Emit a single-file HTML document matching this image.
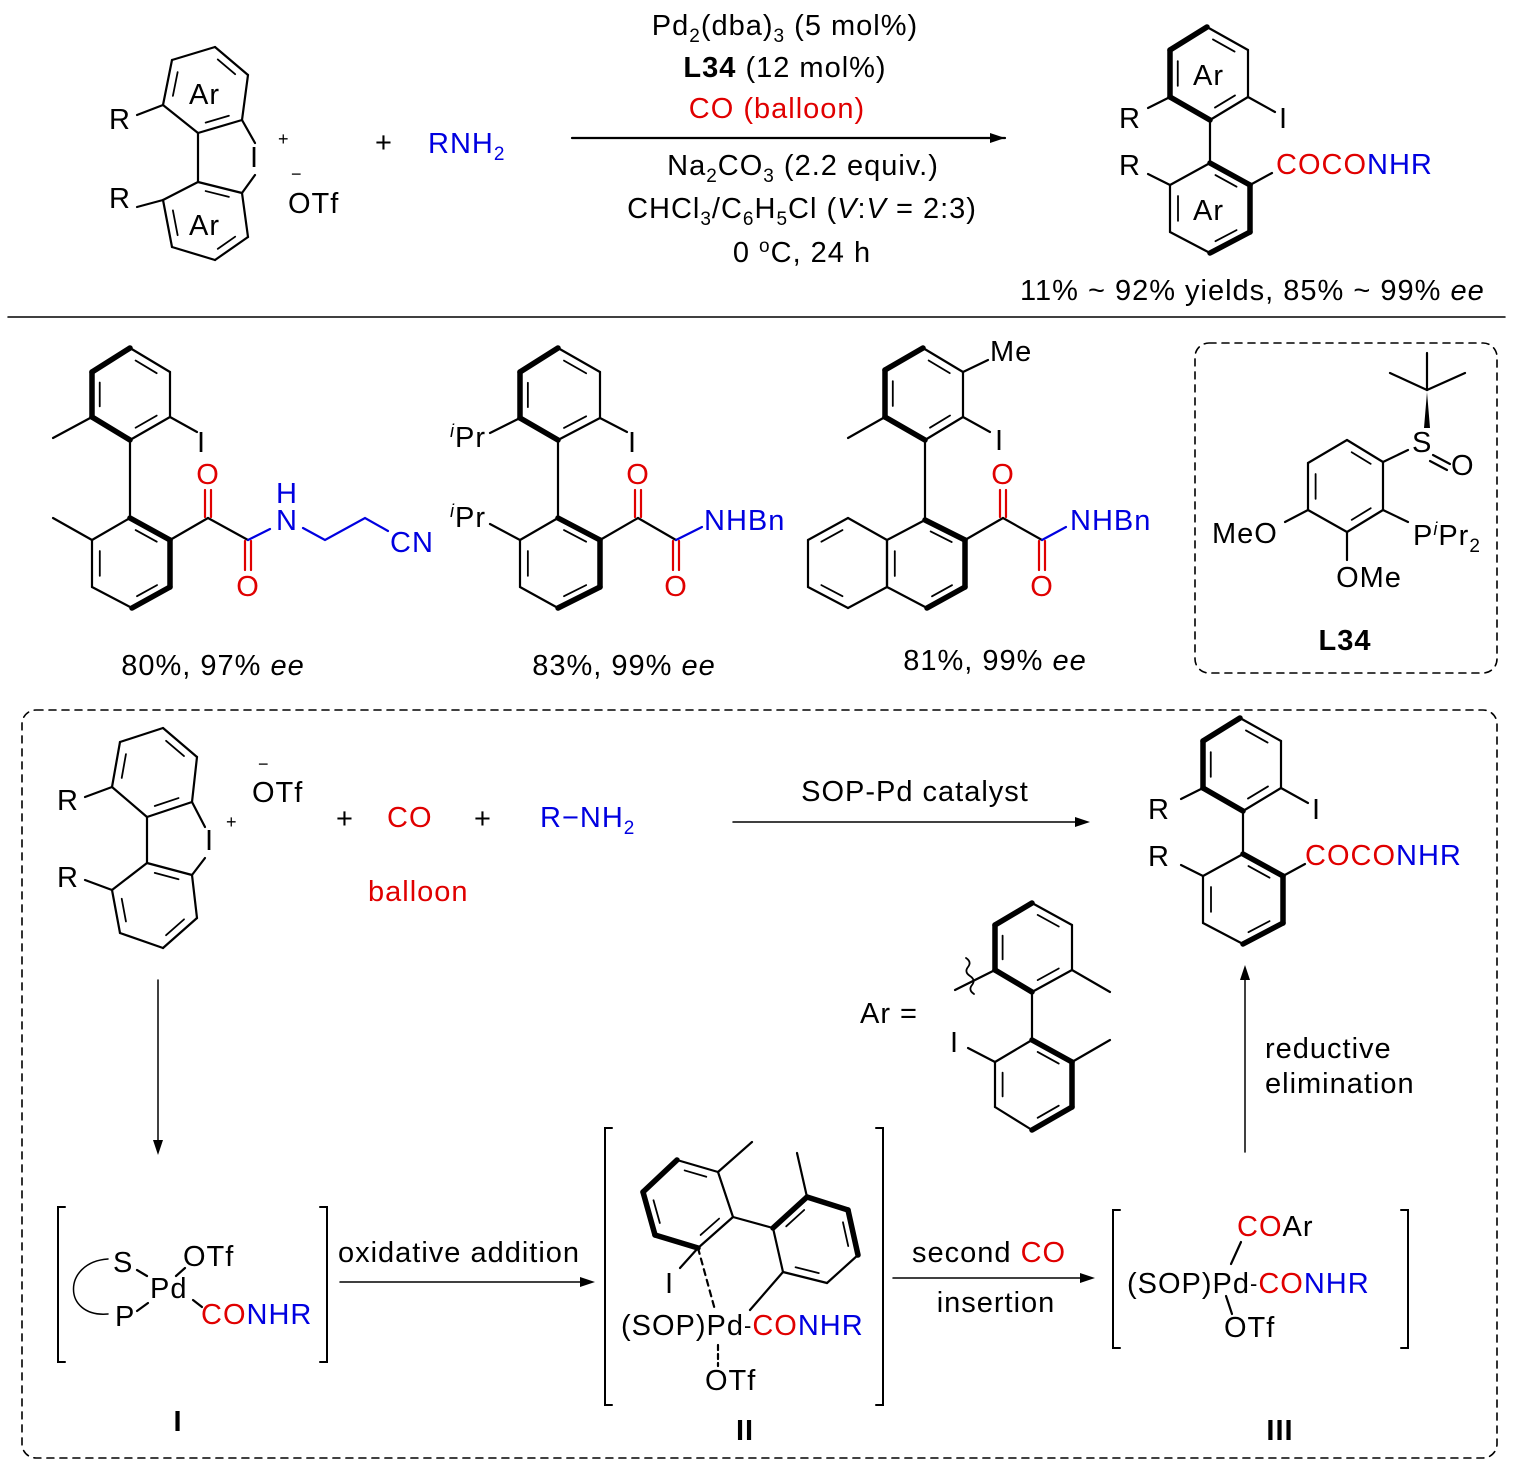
<!DOCTYPE html>
<html><head><meta charset="utf-8">
<style>
html,body{margin:0;padding:0;background:#fff;}
svg{display:block;font-family:"Liberation Sans",Arial,sans-serif;}
text{font-size:29px;fill:#000;letter-spacing:1px;}
.r{fill:#e00000}.b{fill:#0000e0}
.sm{font-size:18px}
</style></head>
<body>
<svg id="s" width="1515" height="1467" viewBox="0 0 1515 1467" xmlns="http://www.w3.org/2000/svg">
<g id="bonds" stroke="#000" stroke-width="2.2" fill="none" stroke-linecap="round">
<line x1="198" y1="133" x2="198" y2="182"/>
<line x1="163" y1="105" x2="137" y2="115"/><line x1="163" y1="200" x2="137" y2="207"/>
<line x1="242" y1="120" x2="255" y2="143"/><line x1="242" y1="193" x2="255" y2="175"/>
<line x1="572" y1="138" x2="1005" y2="138"/>
<line x1="1210" y1="120" x2="1210" y2="163"/>
<line x1="1248" y1="97" x2="1275" y2="112"/>
<line x1="1170" y1="97" x2="1148" y2="108"/><line x1="1170" y1="185" x2="1148" y2="174"/>
<line x1="1250" y1="185" x2="1272" y2="173"/>
<line x1="8" y1="317" x2="1505" y2="317" stroke-width="1.5"/>
<line x1="130" y1="440" x2="130" y2="518"/>
<line x1="92" y1="417" x2="53" y2="438"/><line x1="92" y1="540" x2="53" y2="518"/>
<line x1="170" y1="417" x2="197" y2="432"/>
<line x1="170" y1="540" x2="208" y2="518"/><line x1="208" y1="518" x2="248" y2="540"/>
<g stroke="#e00000"><line x1="205" y1="517" x2="205" y2="490"/><line x1="211" y1="517" x2="211" y2="490"/>
<line x1="245" y1="541" x2="245" y2="570"/><line x1="251" y1="541" x2="251" y2="570"/></g>
<g stroke="#0000e0"><line x1="248" y1="540" x2="270" y2="529"/><polyline points="303,528 325,540 365,518 388,531"/></g>
<line x1="558" y1="440" x2="558" y2="518"/>
<line x1="520" y1="418" x2="490" y2="433"/><line x1="520" y1="540" x2="490" y2="524"/>
<line x1="600" y1="418" x2="627" y2="432"/>
<line x1="600" y1="540" x2="638" y2="518"/><line x1="638" y1="518" x2="676" y2="540"/>
<g stroke="#e00000"><line x1="635" y1="517" x2="635" y2="490"/><line x1="641" y1="517" x2="641" y2="490"/>
<line x1="673" y1="541" x2="673" y2="570"/><line x1="679" y1="541" x2="679" y2="570"/></g>
<line x1="676" y1="540" x2="702" y2="527" stroke="#0000e0"/>
<line x1="925" y1="440" x2="925" y2="520"/>
<line x1="885" y1="417" x2="848" y2="438"/>
<line x1="963" y1="372" x2="988" y2="360"/>
<line x1="963" y1="417" x2="990" y2="432"/>
<line x1="965" y1="540" x2="1003" y2="518"/><line x1="1003" y1="518" x2="1042" y2="540"/>
<g stroke="#e00000"><line x1="1000" y1="517" x2="1000" y2="490"/><line x1="1006" y1="517" x2="1006" y2="490"/>
<line x1="1039" y1="541" x2="1039" y2="570"/><line x1="1045" y1="541" x2="1045" y2="570"/></g>
<line x1="1042" y1="540" x2="1066" y2="527" stroke="#0000e0"/>
<rect x="1195" y="343" width="302" height="330" rx="14" stroke-dasharray="7,6" stroke-width="1.6"/>
<line x1="1383" y1="462" x2="1408" y2="450"/>
<line x1="1433" y1="455" x2="1450" y2="464"/><line x1="1430" y1="461" x2="1447" y2="470"/>
<line x1="1427" y1="390" x2="1427" y2="353"/><line x1="1427" y1="390" x2="1390" y2="373"/><line x1="1427" y1="390" x2="1465" y2="373"/>
<line x1="1383" y1="510" x2="1408" y2="522"/>
<line x1="1308" y1="510" x2="1285" y2="522"/>
<line x1="1347" y1="532" x2="1347" y2="560"/>
<rect x="22" y="710" width="1475" height="748" rx="14" stroke-dasharray="7,6" stroke-width="1.6"/>
<line x1="147" y1="817" x2="147" y2="863"/>
<line x1="112" y1="787" x2="85" y2="797"/><line x1="112" y1="890" x2="85" y2="880"/>
<line x1="192" y1="802" x2="205" y2="827"/><line x1="192" y1="875" x2="205" y2="858"/>
<line x1="733" y1="822" x2="1082" y2="822" stroke-width="1.5"/>
<g transform="translate(33,691)">
<line x1="1210" y1="120" x2="1210" y2="163"/>
<line x1="1248" y1="97" x2="1275" y2="112"/>
<line x1="1170" y1="97" x2="1148" y2="108"/><line x1="1170" y1="185" x2="1148" y2="174"/>
<line x1="1250" y1="185" x2="1272" y2="173"/>
</g>
<line x1="1032" y1="992" x2="1032" y2="1040"/>
<line x1="1072" y1="970" x2="1110" y2="992"/><line x1="1072" y1="1062" x2="1110" y2="1040"/>
<line x1="995" y1="1062" x2="968" y2="1048"/>
<line x1="995" y1="970" x2="955" y2="990"/>
<path d="M966,958 q6,4 2,9 q-4,5 2,9 q6,4 2,9 q-4,5 2,9" stroke-width="1.8"/>
<line x1="158" y1="980" x2="158" y2="1148" stroke-width="1.5"/>
<line x1="1245" y1="1152" x2="1245" y2="972" stroke-width="1.5"/>
<path d="M65,1207 h-7 v155 h7 M320,1207 h7 v155 h-7" stroke-width="2"/>
<path d="M108,1259 C62,1262 62,1318 108,1314" stroke-width="1.5"/>
<line x1="137" y1="1270" x2="147" y2="1276"/><line x1="137" y1="1311" x2="148" y2="1303"/>
<line x1="176" y1="1276" x2="185" y2="1268"/><line x1="193" y1="1300" x2="202" y2="1307"/>
<line x1="340" y1="1282" x2="588" y2="1282" stroke-width="1.5"/>
<path d="M612,1128 h-7 v277 h7 M876,1128 h7 v277 h-7" stroke-width="2"/>
<line x1="733" y1="1217" x2="773" y2="1228"/>
<line x1="718" y1="1172" x2="752" y2="1142"/>
<line x1="807" y1="1197" x2="797" y2="1153"/>
<line x1="698" y1="1248" x2="680" y2="1268"/>
<line x1="698" y1="1248" x2="715" y2="1310" stroke-dasharray="6,5"/>
<line x1="783" y1="1272" x2="750" y2="1310"/>
<line x1="718" y1="1345" x2="718" y2="1366" stroke-dasharray="5,4"/>
<line x1="893" y1="1278" x2="1088" y2="1278" stroke-width="1.5"/>
<path d="M1120,1210 h-7 v138 h7 M1401,1210 h7 v138 h-7" stroke-width="2"/>
<line x1="1241" y1="1242" x2="1231" y2="1264"/>
<line x1="1226" y1="1296" x2="1232" y2="1314"/>
</g>
<g fill="#000">
<polygon points="1005,138 990,133 990,143"/>
<polygon points="1090,822 1075,817 1075,827"/>
<polygon points="595,1282 580,1277 580,1287"/>
<polygon points="1095,1278 1080,1273 1080,1283"/>
<polygon points="158,1155 153,1140 163,1140"/>
<polygon points="1245,965 1240,980 1250,980"/>
<polygon points="1424,428 1430,428 1427,392"/>
</g>

<text x="189" y="104">Ar</text><text x="189" y="235">Ar</text>
<text x="109" y="129">R</text><text x="109" y="208">R</text>
<text x="250" y="167">I</text><text x="278" y="145" class="sm">+</text>
<text x="291" y="180" class="sm">−</text><text x="288" y="213">OTf</text>
<text x="375" y="152">+</text>
<text x="428" y="153" class="b">RNH<tspan class="b" font-size="19" dy="7">2</tspan></text>
<text x="785" y="35" text-anchor="middle">Pd<tspan font-size="19" dy="7">2</tspan><tspan dy="-7">(dba)</tspan><tspan font-size="19" dy="7">3</tspan><tspan dy="-7"> (5 mol%)</tspan></text>
<text x="785" y="77" text-anchor="middle"><tspan font-weight="bold">L34</tspan> (12 mol%)</text>
<text x="777" y="118" text-anchor="middle" class="r">CO (balloon)</text>
<text x="803" y="175" text-anchor="middle">Na<tspan font-size="19" dy="7">2</tspan><tspan dy="-7">CO</tspan><tspan font-size="19" dy="7">3</tspan><tspan dy="-7"> (2.2 equiv.)</tspan></text>
<text x="802" y="218" text-anchor="middle">CHCl<tspan font-size="19" dy="7">3</tspan><tspan dy="-7">/C</tspan><tspan font-size="19" dy="7">6</tspan><tspan dy="-7">H</tspan><tspan font-size="19" dy="7">5</tspan><tspan dy="-7">Cl (</tspan><tspan font-style="italic">V</tspan>:<tspan font-style="italic">V</tspan> = 2:3)</text>
<text x="802" y="262" text-anchor="middle">0 <tspan font-size="19" dy="-10">o</tspan><tspan dy="10">C, 24 h</tspan></text>
<text x="1193" y="85">Ar</text><text x="1193" y="220">Ar</text>
<text x="1119" y="128">R</text><text x="1119" y="175">R</text>
<text x="1279" y="128">I</text>
<text x="1276" y="174"><tspan class="r">COCO</tspan><tspan class="b">NHR</tspan></text>
<text x="1020" y="300">11% ~ 92% yields, 85% ~ 99% <tspan font-style="italic">ee</tspan></text>

<text x="197" y="452">I</text>
<text x="208" y="484" text-anchor="middle" class="r">O</text>
<text x="248" y="596" text-anchor="middle" class="r">O</text>
<text x="287" y="503" text-anchor="middle" class="b">H</text>
<text x="287" y="530" text-anchor="middle" class="b">N</text>
<text x="390" y="552" class="b">CN</text>
<text x="213" y="675" text-anchor="middle">80%, 97% <tspan font-style="italic">ee</tspan></text>

<text x="450" y="447"><tspan class="sm" font-style="italic" dy="-10">i</tspan><tspan dy="10">Pr</tspan></text>
<text x="450" y="527"><tspan class="sm" font-style="italic" dy="-10">i</tspan><tspan dy="10">Pr</tspan></text>
<text x="628" y="452">I</text>
<text x="638" y="484" text-anchor="middle" class="r">O</text>
<text x="676" y="596" text-anchor="middle" class="r">O</text>
<text x="704" y="530" class="b">NHBn</text>
<text x="624" y="675" text-anchor="middle">83%, 99% <tspan font-style="italic">ee</tspan></text>

<text x="990" y="361">Me</text>
<text x="995" y="450">I</text>
<text x="1003" y="484" text-anchor="middle" class="r">O</text>
<text x="1042" y="596" text-anchor="middle" class="r">O</text>
<text x="1070" y="530" class="b">NHBn</text>
<text x="995" y="670" text-anchor="middle">81%, 99% <tspan font-style="italic">ee</tspan></text>

<text x="1412" y="452">S</text><text x="1451" y="475">O</text>
<text x="1212" y="543">MeO</text>
<text x="1413" y="545">P<tspan class="sm" font-style="italic" dy="-10">i</tspan><tspan dy="10">Pr</tspan><tspan font-size="19" dy="7">2</tspan></text>
<text x="1369" y="587" text-anchor="middle">OMe</text>
<text x="1345" y="650" text-anchor="middle" font-weight="bold">L34</text>

<text x="57" y="810">R</text><text x="57" y="887">R</text>
<text x="205" y="850">I</text><text x="226" y="828" class="sm">+</text>
<text x="258" y="770" class="sm">−</text><text x="252" y="802">OTf</text>
<text x="336" y="828">+</text><text x="387" y="827" class="r">CO</text>
<text x="474" y="828">+</text>
<text x="540" y="827" class="b">R−NH<tspan class="b" font-size="19" dy="7">2</tspan></text>
<text x="368" y="901" class="r">balloon</text>
<text x="915" y="801" text-anchor="middle">SOP-Pd catalyst</text>
<g transform="translate(33,691)">
<text x="1115" y="128">R</text><text x="1115" y="175">R</text>
<text x="1279" y="128">I</text>
<text x="1272" y="174"><tspan class="r">COCO</tspan><tspan class="b">NHR</tspan></text>
</g>
<text x="860" y="1023">Ar =</text>
<text x="950" y="1052">I</text>
<text x="1265" y="1058">reductive</text>
<text x="1265" y="1093">elimination</text>

<text x="113" y="1272">S</text><text x="150" y="1298">Pd</text><text x="183" y="1266">OTf</text>
<text x="115" y="1326">P</text>
<text x="201" y="1324"><tspan class="r">CO</tspan><tspan class="b">NHR</tspan></text>
<text x="178" y="1431" text-anchor="middle" font-weight="bold">I</text>
<text x="459" y="1262" text-anchor="middle">oxidative addition</text>

<text x="665" y="1293">I</text>
<text x="621" y="1335">(SOP)Pd<tspan font-size="22" dy="-2">-</tspan><tspan class="r" dy="2">CO</tspan><tspan class="b">NHR</tspan></text>
<text x="705" y="1390">OTf</text>
<text x="745" y="1440" text-anchor="middle" font-weight="bold">II</text>
<text x="912" y="1262">second <tspan class="r">CO</tspan></text>
<text x="996" y="1312" text-anchor="middle">insertion</text>

<text x="1237" y="1236"><tspan class="r">CO</tspan>Ar</text>
<text x="1127" y="1293">(SOP)Pd<tspan font-size="22" dy="-2">-</tspan><tspan class="r" dy="2">CO</tspan><tspan class="b">NHR</tspan></text>
<text x="1224" y="1337">OTf</text>
<text x="1280" y="1440" text-anchor="middle" font-weight="bold">III</text>
</svg>
<script>
(function(){
var g=document.getElementById('bonds'),NS='http://www.w3.org/2000/svg';
function L(a,b,w){var l=document.createElementNS(NS,'line');l.setAttribute('x1',a[0]);l.setAttribute('y1',a[1]);l.setAttribute('x2',b[0]);l.setAttribute('y2',b[1]);if(w)l.setAttribute('stroke-width',w);g.appendChild(l);}
function ring(p,dbl,bold,off,dx,dy){dx=dx||0;dy=dy||0;
 p=p.map(function(q){return[q[0]+dx,q[1]+dy]});
 var cx=0,cy=0;p.forEach(function(q){cx+=q[0];cy+=q[1]});cx/=p.length;cy/=p.length;
 for(var i=0;i<p.length;i++){var a=p[i],b=p[(i+1)%p.length];
  L(a,b,bold.indexOf(i)>=0?5.5:null);
  if(dbl.indexOf(i)>=0){var f=0.2,t=0.17;
   var a2=[a[0]+(cx-a[0])*f,a[1]+(cy-a[1])*f],b2=[b[0]+(cx-b[0])*f,b[1]+(cy-b[1])*f];
   var s=[a2[0]+(b2[0]-a2[0])*t,a2[1]+(b2[1]-a2[1])*t],e=[b2[0]+(a2[0]-b2[0])*t,b2[1]+(a2[1]-b2[1])*t];
   L(s,e,1.8);}}}
ring([[172,60],[215,47],[248,75],[242,120],[198,133],[163,105]],[1,3,5],[]);
ring([[198,182],[242,193],[248,237],[215,260],[172,247],[163,200]],[0,2,4],[]);
var PU=[[1207,27],[1248,50],[1248,97],[1210,120],[1170,97],[1170,50]],PL=[[1210,163],[1250,185],[1250,232],[1210,253],[1170,232],[1170,185]];
ring(PU,[0,2,4],[3,4,5]);ring(PL,[0,2,4],[0,1,2]);
ring(PU,[0,2,4],[3,4,5],0,33,691);ring(PL,[0,2,4],[0,1,2],0,33,691);
ring([[130,348],[170,372],[170,417],[130,440],[92,417],[92,372]],[0,2,4],[3,4,5]);
ring([[130,518],[170,540],[170,587],[132,608],[92,587],[92,540]],[0,2,4],[0,1,2]);
ring([[558,348],[600,372],[600,418],[558,440],[520,418],[520,372]],[0,2,4],[3,4,5]);
ring([[558,518],[600,540],[600,587],[558,608],[520,587],[520,540]],[0,2,4],[0,1,2]);
ring([[923,348],[963,372],[963,417],[925,440],[885,417],[885,370]],[0,2,4],[3,4,5]);
ring([[925,520],[965,540],[965,587],[927,608],[887,587],[887,540]],[0,2,4],[0,1,2]);
ring([[887,540],[848,518],[808,540],[808,587],[848,608],[887,587]],[1,3],[]);
ring([[1347,440],[1383,462],[1383,510],[1347,532],[1308,510],[1308,463]],[0,2,4],[]);
ring([[163,728],[197,757],[192,802],[147,817],[112,787],[120,742]],[0,2,4],[]);
ring([[147,863],[192,875],[197,918],[163,948],[120,933],[112,890]],[0,2,4],[]);
ring([[1032,903],[1072,925],[1072,970],[1032,992],[995,970],[995,925]],[0,2,4],[3,4,5]);
ring([[1032,1040],[1072,1062],[1072,1107],[1032,1130],[995,1107],[995,1062]],[0,2,4],[0,1,2]);
ring([[677,1160],[718,1172],[733,1217],[698,1248],[655,1235],[643,1192]],[0,2,4],[3,4,5]);
ring([[773,1228],[807,1197],[848,1210],[858,1255],[827,1283],[783,1272]],[0,2,4],[0,1,2]);
})();
</script>
</body></html>
